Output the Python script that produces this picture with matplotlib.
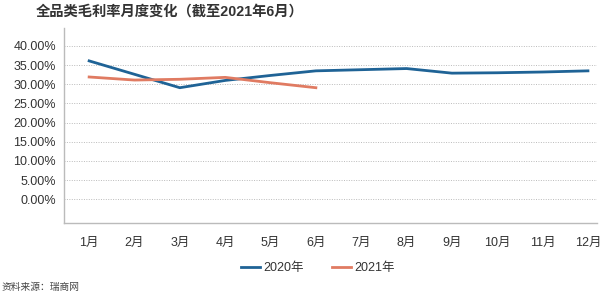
import matplotlib
matplotlib.use('Agg')
import matplotlib.pyplot as plt

plt.rcParams['font.family'] = ['Liberation Sans', 'Noto Sans CJK SC', 'DejaVu Sans']

# 数据
months = ['1月', '2月', '3月', '4月', '5月', '6月', '7月', '8月', '9月', '10月', '11月', '12月']
margin_2020 = [36.1, 32.6, 29.1, 31.0, 32.3, 33.5, 33.8, 34.1, 32.9, 33.0, 33.2, 33.5]
margin_2021 = [31.9, 31.1, 31.3, 31.8, 30.4, 29.1]
y_ticks = [0, 5, 10, 15, 20, 25, 30, 35, 40]

BLUE = '#1f6396'
RED = '#e07b62'
TEXT = '#333333'

fig = plt.figure(figsize=(6, 2.94), dpi=100)
ax = fig.add_axes([0.107, 0.2415, 0.888, 0.6635])

x = list(range(1, len(months) + 1))
ax.plot(x, margin_2020, color=BLUE, lw=2, label='2020年')
ax.plot(x[:len(margin_2021)], margin_2021, color=RED, lw=2, label='2021年')

ax.set_xlim(0.45, 12.2)
ax.set_ylim(-6.2, 44.7)
ax.set_xticks(x)
ax.set_xticklabels(months)
ax.set_yticks(y_ticks)
ax.set_yticklabels([f'{v:.2f}%' for v in y_ticks])
ax.tick_params(length=0, labelsize=9, colors=TEXT)
ax.tick_params(axis='x', pad=10)
ax.tick_params(axis='y', pad=6)

ax.grid(axis='y', linestyle=(0, (1, 1.5)), color='#bbbbbb', lw=0.7)
ax.set_axisbelow(True)
for s in ['top', 'right']:
    ax.spines[s].set_visible(False)
for s in ['left', 'bottom']:
    ax.spines[s].set_color('#bbbbbb')
    ax.spines[s].set_linewidth(1)

fig.text(0.06, 0.962, '全品类毛利率月度变化（截至2021年6月）', fontsize=10.3,
         fontweight='bold', color=TEXT, va='center', ha='left')

fig.legend(loc='center', bbox_to_anchor=(0.53, 0.087), ncol=2, frameon=False,
           fontsize=9, handlelength=1.5, handletextpad=0.3, columnspacing=2.2,
           labelcolor=TEXT)

fig.text(0.003, 0.025, '资料来源：瑞商网', fontsize=7, color='#444444',
         va='center', ha='left')

fig.savefig('out.png', dpi=100, facecolor='white')
